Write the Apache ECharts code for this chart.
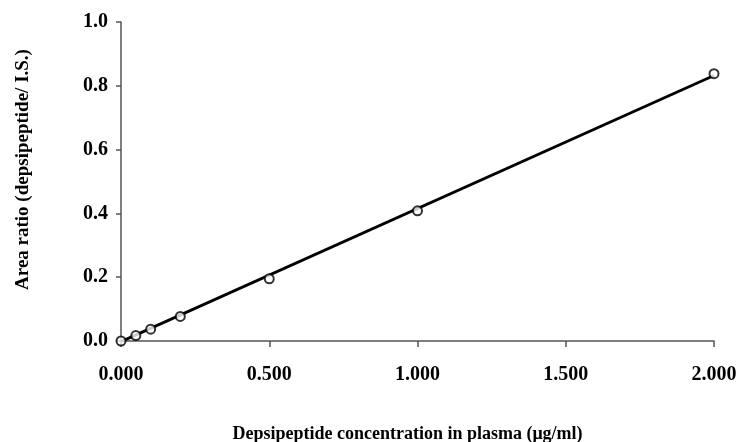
<!DOCTYPE html>
<html><head><meta charset="utf-8">
<script src="https://cdn.jsdelivr.net/npm/echarts@6/dist/echarts.min.js"></script>
<style>html,body{margin:0;padding:0;background:#fff}#c{width:737px;height:442px}</style>
</head><body><div id="c"></div>
<script>
const concentrations = [0, 0.05, 0.1, 0.2, 0.5, 1.0, 2.0];
const areaRatios = [0.0, 0.017, 0.037, 0.077, 0.195, 0.408, 0.838];
const fitX = [0, 2.0];
const fitY = [-0.002, 0.832];
const xTicks = ['0.000', '0.500', '1.000', '1.500', '2.000'];
const yTicks = ['0.0', '0.2', '0.4', '0.6', '0.8', '1.0'];

const font = 'Liberation Serif';
const chart = echarts.init(document.getElementById('c'), null, {renderer: 'canvas'});
chart.setOption({
  animation: false,
  backgroundColor: '#fff',
  grid: {left: 121, right: 23, top: 22, bottom: 101, containLabel: false, outerBoundsMode: 'none'},
  xAxis: {
    type: 'value', min: 0, max: 2, interval: 0.5,
    axisLine: {lineStyle: {color: '#555', width: 1.5}},
    axisTick: {show: true, length: 6, lineStyle: {color: '#555', width: 1.5}},
    splitLine: {show: false},
    axisLabel: {margin: 24, color: '#000', fontFamily: font, fontWeight: 'bold', fontSize: 20,
      formatter: v => xTicks[Math.round(v / 0.5)]},
    name: 'Depsipeptide concentration in plasma (\u03bcg/ml)',
    nameLocation: 'middle', nameGap: 84,
    nameTextStyle: {color: '#000', fontFamily: font, fontWeight: 'bold', fontSize: 18, padding: [0, 20, 0, 0]}
  },
  yAxis: {
    type: 'value', min: 0, max: 1, interval: 0.2,
    axisLine: {show: true, lineStyle: {color: '#555', width: 1.5}},
    axisTick: {show: true, length: 5, lineStyle: {color: '#555', width: 1.5}},
    splitLine: {show: false},
    axisLabel: {margin: 13, color: '#000', fontFamily: font, fontWeight: 'bold', fontSize: 20,
      formatter: v => yTicks[Math.round(v / 0.2)]},
    name: 'Area ratio (depsipeptide/ I.S.)',
    nameLocation: 'middle', nameGap: 88, nameRotate: 90,
    nameTextStyle: {color: '#000', fontFamily: font, fontWeight: 'bold', fontSize: 19, padding: [0, 0, 0, 24]}
  },
  series: [
    {
      type: 'line', data: fitX.map((x, i) => [x, fitY[i]]),
      symbol: 'none', lineStyle: {color: '#000', width: 2.8}, z: 2
    },
    {
      type: 'scatter', data: concentrations.map((x, i) => [x, areaRatios[i]]),
      symbol: 'circle', symbolSize: 9,
      itemStyle: {color: '#fff', borderColor: '#000', borderWidth: 2}, z: 3
    }
  ]
});
</script></body></html>
